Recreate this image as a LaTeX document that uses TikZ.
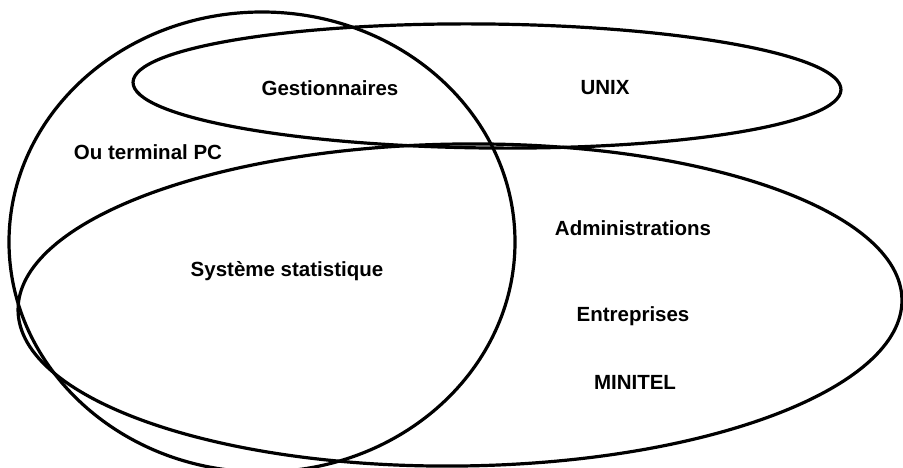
\documentclass[tikz,border=0pt]{standalone}
\usepackage{fontspec}
\setmainfont{Liberation Sans}
\begin{document}
\begin{tikzpicture}[x=1pt,y=-1pt,
  shape line/.style={draw=black,line width=3.2pt},
  lbl/.style={font=\fontsize{20.5}{22}\selectfont\bfseries,inner sep=0pt,anchor=center}]
\useasboundingbox[fill=white] (0,0) rectangle (903,468);
% circle
\draw[shape line] (262,242) ellipse [x radius=253, y radius=230];
% top ellipse (UNIX)
\draw[shape line,rotate around={-0.6:(487,86)}] (487,86) ellipse [x radius=354, y radius=62];
% lower ellipse
\draw[shape line,rotate around={0.7:(460,305)}] (460,305) ellipse [x radius=442, y radius=161];
% labels
\node[lbl] (gest) at (330,88) {Gestionnaires};
\node[lbl] (unix) at (605,88) {UNIX};
\node[lbl] (term) at (148,152) {Ou terminal PC};
\node[lbl] (admin) at (633,228) {Administrations};
\node[lbl] (stat) at (287,271) {Système statistique};
\node[lbl] (entr) at (633,316) {Entreprises};
\node[lbl] (mini) at (635,382) {MINITEL};
\end{tikzpicture}
\end{document}
